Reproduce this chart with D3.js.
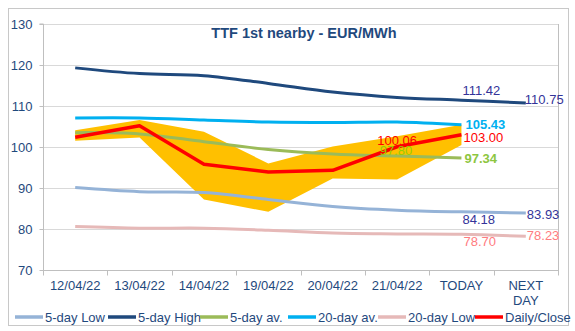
<!DOCTYPE html>
<html><head><meta charset="utf-8">
<script src="https://cdn.jsdelivr.net/npm/d3@7"></script>
<style>
html,body{margin:0;padding:0;background:#fff;}
svg{display:block;font-family:"Liberation Sans",Arial,sans-serif;}
</style></head>
<body><svg id="c" width="575" height="331"></svg>
<script>
const categories = ["12/04/22","13/04/22","14/04/22","19/04/22","20/04/22","21/04/22","TODAY","NEXT DAY"];
const yTicks = [70,80,90,100,110,120,130];
const fiveDayLow   = [90.1, 89.1, 88.9, 87.2, 85.5, 84.6, 84.18, 83.93];
const fiveDayHigh  = [119.3, 117.9, 117.4, 115.5, 113.4, 112.1, 111.42, 110.75];
const fiveDayAv    = [103.5, 103.2, 101.3, 99.4, 98.3, 97.80, 97.34];
const twentyDayAv  = [107.1, 107.1, 106.6, 106.1, 106.0, 106.1, 105.43];
const twentyDayLow = [80.6, 80.2, 80.2, 79.7, 79.0, 78.8, 78.70, 78.23];
const dailyClose   = [102.4, 105.2, 95.8, 93.9, 94.3, 100.06, 103.00];
const rangeHigh    = [104.1, 106.6, 103.7, 96.0, 100.1, 102.6, 105.4];
const rangeLow     = [101.5, 102.3, 87.2, 84.2, 92.3, 92.1, 100.5];

const svg = d3.select("#c");
const L = 43, R = 558, T = 24, B = 270;
const x = d3.scaleBand().domain(categories).range([L, R]);
const y = d3.scaleLinear().domain([70, 130]).range([B, T]);
const cx = i => x(categories[i]) + x.bandwidth() / 2;
const axisColor = "#1F497D";

// outer border
svg.append("rect").attr("x", 8.5).attr("y", 8.5).attr("width", 560).attr("height", 317)
  .attr("fill", "none").attr("stroke", "#C8C8C8");

// gridlines
svg.append("g").selectAll("line").data(yTicks.filter(v => v > 70)).join("line")
  .attr("x1", L).attr("x2", R).attr("y1", d => Math.round(y(d)) + 0.5).attr("y2", d => Math.round(y(d)) + 0.5)
  .attr("stroke", "#D9D9D9");
// right border of plot
svg.append("line").attr("x1", R + 0.5).attr("x2", R + 0.5).attr("y1", T).attr("y2", B + 5)
  .attr("stroke", "#BFBFBF");

// y axis
const ya = svg.append("g").attr("transform", `translate(${L + 0.5},0)`)
  .call(d3.axisLeft(y).tickValues(yTicks).tickSize(4).tickPadding(7).tickFormat(d3.format("d")));
ya.select(".domain").attr("stroke", "#BFBFBF").attr("d", `M-4,${T}H0V${B}`);
ya.selectAll(".tick line").attr("stroke", "#BFBFBF");
ya.selectAll(".tick text").attr("fill", axisColor).attr("font-size", 13).attr("font-family", "Liberation Sans, Arial, sans-serif");

// x axis
const xa = svg.append("g").attr("transform", `translate(0,${B + 0.5})`)
  .call(d3.axisBottom(x).tickSize(0).tickPadding(10.5).tickFormat(""));
xa.select(".domain").attr("stroke", "#BFBFBF").attr("d", `M${L},0H${R}`);
const edges = categories.map(c => x(c)).concat([R]);
xa.append("g").selectAll("line").data(edges).join("line")
  .attr("x1", d => Math.round(d) + 0.5).attr("x2", d => Math.round(d) + 0.5).attr("y1", 0).attr("y2", 5)
  .attr("stroke", "#BFBFBF");
xa.selectAll(".tick").each(function(d) {
  const g = d3.select(this);
  g.select("text").remove();
  const words = d === "NEXT DAY" ? ["NEXT", "DAY"] : [d];
  const t = g.append("text").attr("fill", axisColor).attr("font-size", 13)
    .attr("text-anchor", "middle").attr("font-family", "Liberation Sans, Arial, sans-serif");
  words.forEach((w, i) => t.append("tspan").attr("x", 0).attr("y", 19.5 + i * 15).text(w));
});

// title
svg.append("text").attr("x", 304).attr("y", 38).attr("text-anchor", "middle")
  .attr("font-size", 14.5).attr("font-weight", "bold").attr("fill", axisColor)
  .text("TTF 1st nearby - EUR/MWh");

// band
const area = d3.area().x((d, i) => cx(i)).y0((d, i) => y(rangeLow[i])).y1(d => y(d));
svg.append("path").datum(rangeHigh).attr("d", area).attr("fill", "#FFC000");

const smooth = d3.line().x((d, i) => cx(i)).y(d => y(d)).curve(d3.curveCatmullRom.alpha(0.5));
const straight = d3.line().x((d, i) => cx(i)).y(d => y(d));

const series = [
  {name: "5-day Low", data: fiveDayLow, color: "#95B3D7", w: 3, gen: smooth},
  {name: "5-day High", data: fiveDayHigh, color: "#1F497D", w: 3, gen: smooth},
  {name: "5-day av.", data: fiveDayAv, color: "#9BBB59", w: 3, gen: smooth},
  {name: "20-day av.", data: twentyDayAv, color: "#00B0F0", w: 3, gen: smooth},
  {name: "20-day Low", data: twentyDayLow, color: "#E6B9B8", w: 3, gen: smooth},
  {name: "Daily/Close", data: dailyClose, color: "#FF0000", w: 3.5, gen: straight}
];
const drawOrder = [4, 0, 1, 3, 2, 5];
drawOrder.forEach(k => {
  const s = series[k];
  svg.append("path").datum(s.data).attr("d", s.gen).attr("fill", "none")
    .attr("stroke", s.color).attr("stroke-width", s.w).attr("stroke-linejoin", "round");
});

// data labels
const labels = [
  {s: 1, i: 6, dx: 1, dy: -10, anchor: "start", color: "#333399"},
  {s: 1, i: 7, dx: -1, dy: -3, anchor: "start", color: "#333399"},
  {s: 3, i: 6, dx: 4, dy: 0, anchor: "start", color: "#00B0F0", bold: true},
  {s: 5, i: 6, dx: 2, dy: 2.6, anchor: "start", color: "#FF0000"},
  {s: 2, i: 6, dx: 3, dy: 1, anchor: "start", color: "#8DC63F", bold: true},
  {s: 5, i: 5, dx: 0, dy: -6, anchor: "middle", color: "#FF0000"},
  {s: 2, i: 5, dx: -1, dy: -6, anchor: "middle", color: "#99CC00"},
  {s: 0, i: 6, dx: 1, dy: 8, anchor: "start", color: "#333399"},
  {s: 0, i: 7, dx: 1, dy: 2, anchor: "start", color: "#333399"},
  {s: 4, i: 6, dx: 2, dy: 7, anchor: "start", color: "#FF7C80"},
  {s: 4, i: 7, dx: 1, dy: -0.5, anchor: "start", color: "#FF7C80"}
];
svg.append("g").selectAll("text").data(labels).join("text")
  .attr("x", d => cx(d.i) + d.dx)
  .attr("y", d => y(series[d.s].data[d.i]) + d.dy)
  .attr("dy", "0.35em")
  .attr("text-anchor", d => d.anchor)
  .attr("font-size", 13)
  .attr("font-weight", d => d.bold ? "bold" : "normal")
  .attr("fill", d => d.color)
  .text(d => series[d.s].data[d.i].toFixed(2));

// legend
const legX = [15, 108, 200, 288, 378, 475];
const lg = svg.append("g").selectAll("g").data(series).join("g")
  .attr("transform", (d, i) => `translate(${legX[i]},317)`);
lg.append("line").attr("x1", 0).attr("x2", 28).attr("stroke", d => d.color).attr("stroke-width", 3.5);
lg.append("text").attr("x", 30).attr("dy", "0.35em").attr("font-size", 13).attr("fill", axisColor)
  .text(d => d.name);
</script></body></html>
